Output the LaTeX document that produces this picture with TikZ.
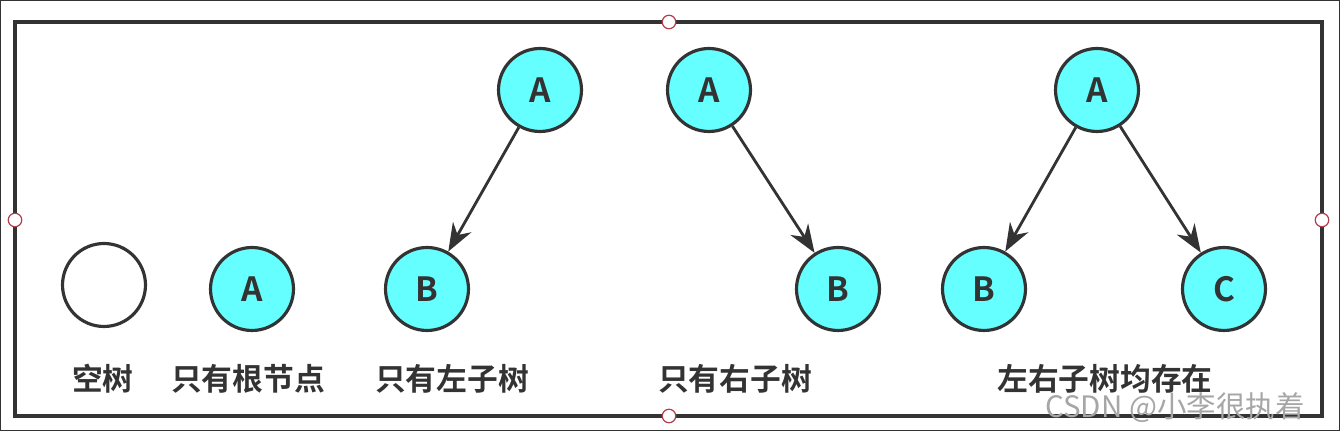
\documentclass[tikz,border=0pt]{standalone}
\usepackage{fontspec}
\setmainfont{Noto Sans CJK SC}
\newfontfamily\cjkbold{Noto Sans CJK SC Bold}
\usetikzlibrary{arrows.meta}
\definecolor{nodecyan}{HTML}{66FFFF}
\definecolor{edgegrey}{HTML}{333333}
\definecolor{handlered}{HTML}{B04050}
\begin{document}
\begin{tikzpicture}[x=0.02cm, y=-0.02cm,
    treenode/.style={circle, draw=edgegrey, line width=1.8pt, fill=nodecyan,
        minimum size=1.66cm, inner sep=0pt, font=\cjkbold\fontsize{19}{19}\selectfont, text=edgegrey},
    emptynode/.style={treenode, fill=white},
    caption/.style={font=\cjkbold\fontsize{17.5}{17.5}\selectfont, text=edgegrey},
    edge/.style={-{Stealth[length=16pt, width=12pt]}, line width=1.6pt, draw=edgegrey},
    handle/.style={circle, draw=handlered, fill=white, line width=0.7pt, minimum size=0.27cm, inner sep=0pt}]
    \useasboundingbox (0,0) rectangle (1340,431);
    \draw[line width=0.6pt, draw=edgegrey] (0.5,0.5) rectangle (1339.5,430.5);

    % frame
    \draw[line width=2pt, draw=edgegrey] (15,22) rectangle (1322,416);

    % empty tree and root only
    \node[emptynode] (empty) at (104,285) {};
    \node[treenode] (root) at (252,289) {A};

    % left subtree only
    \node[treenode] (la) at (540,90) {A};
    \node[treenode] (lb) at (427,289) {B};
    \draw[edge] (la) -- (lb);

    % right subtree only
    \node[treenode] (ra) at (709,90) {A};
    \node[treenode] (rb) at (838,289) {B};
    \draw[edge] (ra) -- (rb);

    % both subtrees
    \node[treenode] (ba) at (1097,90) {A};
    \node[treenode] (bb) at (984,289) {B};
    \node[treenode] (bc) at (1224,289) {C};
    \draw[edge] (ba) -- (bb);
    \draw[edge] (ba) -- (bc);

    % captions
    \node[caption] (capempty) at (103,379) {空树};
    \node[caption] (caproot) at (248,379) {只有根节点};
    \node[caption] (capleft) at (452,379) {只有左子树};
    \node[caption] (capright) at (735,379) {只有右子树};
    \node[caption] (capboth) at (1105,379) {左右子树均存在};

    % watermark
    \node[font=\fontsize{16.8}{16.8}\selectfont, text=black!35, inner sep=0pt] (mark) at (1175,408) {CSDN @小李很执着};

    % handles
    \node[handle] (htop) at (669,22) {};
    \node[handle] (hbottom) at (669,416) {};
    \node[handle] (hleft) at (15,220) {};
    \node[handle] (hright) at (1322,220) {};
\end{tikzpicture}
\end{document}
